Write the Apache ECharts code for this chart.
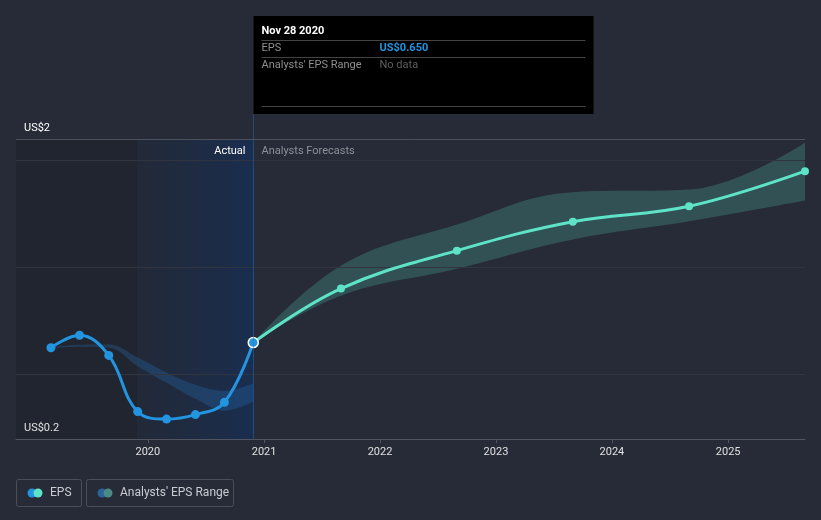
<!DOCTYPE html>
<html>
<head>
<meta charset="utf-8">
<script src="https://cdn.jsdelivr.net/npm/echarts@6/dist/echarts.min.js"></script>
<style>
html,body{margin:0;padding:0;background:#262b37;}
#c{width:821px;height:520px;}
</style>
</head>
<body>
<div id="c"></div>
<script>
// ---- data ----
const actualDates = ['2019-03-02','2019-05-31','2019-08-31','2019-11-30','2020-02-29','2020-05-30','2020-08-29','2020-11-28'];
const actualEPS   = [0.626, 0.684, 0.590, 0.328, 0.293, 0.314, 0.371, 0.650];

const pastBandUpper = [0.628, 0.640, 0.641, 0.580, 0.510, 0.453, 0.425, 0.460];
const pastBandLower = [0.624, 0.631, 0.626, 0.540, 0.463, 0.388, 0.332, 0.375];

const forecastDates = ['2020-11-28','2021-08-31','2022-08-31','2023-08-31','2024-08-31','2025-08-31'];
const forecastEPS   = [0.650, 0.902, 1.079, 1.214, 1.286, 1.450];
const fcBandUpper   = [0.650, 1.009, 1.201, 1.352, 1.364, 1.583];
const fcBandLower   = [0.650, 0.869, 0.994, 1.131, 1.216, 1.313];

const yearTicks = [2020, 2021, 2022, 2023, 2024, 2025];
const gridValues = [0.5, 1.0, 1.5];
const yMin = 0.2, yMax = 1.6;
const yLabels = {min: 'US$0.2', max: 'US$2'};
const xMin = '2018-11-12', xMax = '2025-08-31';
const pastStart = '2019-11-28', nowDate = '2020-11-28';
const tipTitle = 'Nov 28 2020', tipEPS = 'US$0.650', tipRange = 'No data';

const FONT = 'Roboto, "Noto Sans", sans-serif';
const BLUE = '#2394df', TEAL = '#5ee3c7';

const pair = (ds, vs) => ds.map((d, i) => [d, vs[i]]);
const diff = (u, l) => u.map((v, i) => +(v - l[i]).toFixed(4));

const chart = echarts.init(document.getElementById('c'));
chart.setOption({
  backgroundColor: '#262b37',
  animation: false,
  grid: {left: 16, right: 16, top: 139, bottom: 81, containLabel: false},
  xAxis: {
    type: 'time', min: xMin, max: xMax,
    minInterval: 365 * 86400000, maxInterval: 366 * 86400000,
    axisLine: {lineStyle: {color: '#50555f', width: 1}},
    axisTick: {show: false},
    axisLabel: {color: '#e0e0e0', fontFamily: FONT, fontSize: 11, margin: 8,
      showMinLabel: false, showMaxLabel: false,
      formatter: v => { const y = new Date(v).getFullYear(); return yearTicks.indexOf(y) >= 0 ? String(y) : ''; },
      rich: {}},
    splitLine: {show: false}
  },
  yAxis: {
    type: 'value', min: yMin, max: yMax, interval: 0.2,
    axisLine: {show: false}, axisTick: {show: false},
    splitLine: {show: false},
    axisLabel: {inside: true, color: '#ffffff', fontFamily: FONT, fontSize: 11,
      verticalAlign: 'bottom', margin: 8, padding: [0, 0, 5, 0],
      formatter: v => Math.abs(v - yMin) < 1e-6 ? yLabels.min : (Math.abs(v - yMax) < 1e-6 ? yLabels.max : '')}
  },
  series: [
    {
      name: 'pastLower', type: 'line', stack: 'past', smooth: 0.4, symbol: 'none',
      data: pair(actualDates, pastBandLower), lineStyle: {opacity: 0}, silent: true, z: 1,
      markArea: {silent: true, data: [
        [{xAxis: xMin, itemStyle: {color: 'rgba(0,0,0,0.12)'}}, {xAxis: pastStart}],
        [{xAxis: pastStart, itemStyle: {color: {type: 'linear', x: 0, y: 0, x2: 1, y2: 0,
          colorStops: [{offset: 0, color: 'rgba(25,38,62,0.3)'}, {offset: 1, color: 'rgba(15,48,100,0.55)'}]}}},
         {xAxis: nowDate}]
      ]},
      markLine: {silent: true, symbol: 'none', label: {show: false},
        lineStyle: {color: '#30353f', width: 1, type: 'solid'},
        data: gridValues.map(v => ({yAxis: v})).concat([{yAxis: yMax, lineStyle: {color: '#4c515b'}}])}
    },
    {
      name: 'pastRange', type: 'line', stack: 'past', smooth: 0.4, symbol: 'none',
      data: pair(actualDates, diff(pastBandUpper, pastBandLower)),
      lineStyle: {opacity: 0}, areaStyle: {color: 'rgba(38,120,200,0.38)'}, silent: true, z: 2
    },
    {
      name: 'fcLower', type: 'line', stack: 'fc', smooth: 0.4, symbol: 'none',
      data: pair(forecastDates, fcBandLower), lineStyle: {opacity: 0}, silent: true, z: 1
    },
    {
      name: 'fcRange', type: 'line', stack: 'fc', smooth: 0.4, symbol: 'none',
      data: pair(forecastDates, diff(fcBandUpper, fcBandLower)),
      lineStyle: {opacity: 0}, areaStyle: {color: 'rgba(94,227,199,0.3)'}, silent: true, z: 2
    },
    {
      name: 'EPS forecast', type: 'line', smooth: 0.4, symbol: 'circle', symbolSize: 8,
      data: pair(forecastDates, forecastEPS).map((p, i) => i === 0 ? {value: p, symbolSize: 0} : p),
      lineStyle: {color: TEAL, width: 3}, itemStyle: {color: TEAL}, z: 5
    },
    {
      name: 'EPS', type: 'line', smooth: 0.4, symbol: 'circle', symbolSize: 9,
      data: pair(actualDates, actualEPS).map((p, i) => i === actualDates.length - 1 ?
        {value: p, symbolSize: 10, itemStyle: {color: BLUE, borderColor: '#ffffff', borderWidth: 1.5}} : p),
      lineStyle: {color: BLUE, width: 3}, itemStyle: {color: BLUE}, z: 6
    }
  ]
});

// overlays positioned from the axis scale
const px = d => chart.convertToPixel({xAxisIndex: 0}, +new Date(d));
const nx = Math.round(px(nowDate)) + 0.5;
const axisY = chart.convertToPixel({yAxisIndex: 0}, yMin);
const tipW = 340, tipTop = 16, tipH = 98;
const tickMarks = yearTicks.map(y => {
  const x = Math.round(px(y + '-01-01T00:00:00')) + 0.5;
  return {type: 'line', shape: {x1: x, y1: axisY, x2: x, y2: axisY + 4}, style: {stroke: '#50555f', lineWidth: 1}, z: 10};
});
chart.setOption({
  graphic: tickMarks.concat([
    {type: 'line', shape: {x1: nx, y1: tipTop + tipH, x2: nx, y2: axisY}, style: {stroke: 'rgba(40,110,190,0.45)', lineWidth: 1}, z: 10},
    {type: 'text', x: nx - 8, y: 151, style: {text: 'Actual', fill: '#ffffff', font: '11px ' + FONT, textAlign: 'right', textVerticalAlign: 'middle'}, z: 10},
    {type: 'text', x: nx + 8, y: 151, style: {text: 'Analysts Forecasts', fill: '#8c9099', font: '11px ' + FONT, textAlign: 'left', textVerticalAlign: 'middle'}, z: 10},
    {type: 'rect', shape: {x: nx, y: tipTop, width: tipW, height: tipH}, style: {fill: '#000000'}, z: 20},
    {type: 'text', x: nx + 8, y: 31, style: {text: tipTitle, fill: '#ffffff', font: 'bold 11px ' + FONT, textVerticalAlign: 'middle'}, z: 21},
    {type: 'line', shape: {x1: nx + 8, y1: 40.5, x2: nx + tipW - 8, y2: 40.5}, style: {stroke: '#444444', lineWidth: 1}, z: 21},
    {type: 'text', x: nx + 8, y: 48, style: {text: 'EPS', fill: '#8f8f8f', font: '11px ' + FONT, textVerticalAlign: 'middle'}, z: 21},
    {type: 'text', x: nx + 126, y: 48, style: {text: tipEPS, fill: BLUE, font: 'bold 11px ' + FONT, textVerticalAlign: 'middle'}, z: 21},
    {type: 'line', shape: {x1: nx + 8, y1: 57.5, x2: nx + tipW - 8, y2: 57.5}, style: {stroke: '#444444', lineWidth: 1}, z: 21},
    {type: 'text', x: nx + 8, y: 65, style: {text: "Analysts' EPS Range", fill: '#8f8f8f', font: '11px ' + FONT, textVerticalAlign: 'middle'}, z: 21},
    {type: 'text', x: nx + 126, y: 65, style: {text: tipRange, fill: '#5f5f5f', font: '11px ' + FONT, textVerticalAlign: 'middle'}, z: 21},
    {type: 'line', shape: {x1: nx + 8, y1: 106.5, x2: nx + tipW - 8, y2: 106.5}, style: {stroke: '#444444', lineWidth: 1}, z: 21},
    // legend
    {type: 'rect', shape: {x: 16.5, y: 479.5, width: 65, height: 27, r: 2}, style: {fill: 'none', stroke: '#4a4f5a', lineWidth: 1}, z: 10},
    {type: 'circle', shape: {cx: 32, cy: 493, r: 4.5}, style: {fill: BLUE}, z: 11},
    {type: 'circle', shape: {cx: 38, cy: 493, r: 4.5}, style: {fill: TEAL}, z: 12},
    {type: 'text', x: 50, y: 493, style: {text: 'EPS', fill: '#c8ccd2', font: '12px ' + FONT, textVerticalAlign: 'middle'}, z: 11},
    {type: 'rect', shape: {x: 86.5, y: 479.5, width: 147, height: 27, r: 2}, style: {fill: 'none', stroke: '#4a4f5a', lineWidth: 1}, z: 10},
    {type: 'circle', shape: {cx: 102, cy: 493, r: 4.5}, style: {fill: '#2b6496'}, z: 11},
    {type: 'circle', shape: {cx: 108, cy: 493, r: 4.5}, style: {fill: '#4c8a86'}, z: 12},
    {type: 'text', x: 120, y: 493, style: {text: "Analysts' EPS Range", fill: '#c8ccd2', font: '12px ' + FONT, textVerticalAlign: 'middle'}, z: 11}
  ])
});
</script>
</body>
</html>
